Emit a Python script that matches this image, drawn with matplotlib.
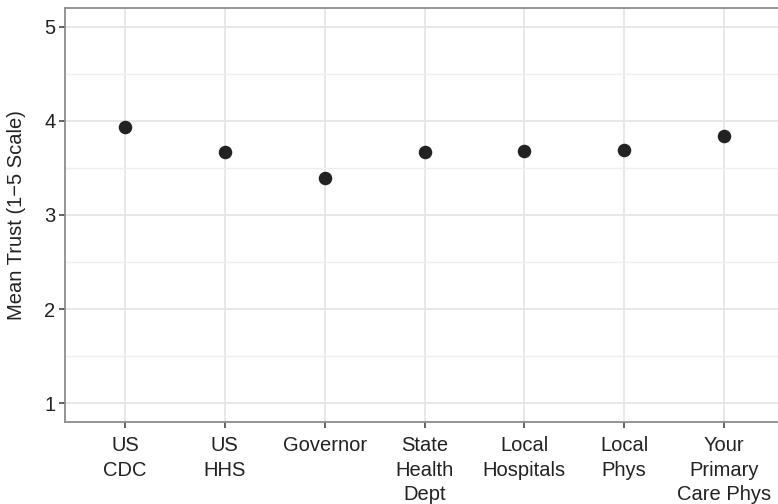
import matplotlib
matplotlib.use("Agg")
import matplotlib.pyplot as plt
import numpy as np

plt.rcParams['font.family'] = ['Liberation Sans', 'DejaVu Sans']

labels = ["US\nCDC", "US\nHHS", "Governor", "State\nHealth\nDept", "Local\nHospitals",
          "Local\nPhys", "Your\nPrimary\nCare Phys"]
mean_trust = [3.94, 3.67, 3.39, 3.67, 3.68, 3.69, 3.84]
y_ticks = [1, 2, 3, 4, 5]

fig = plt.figure(figsize=(7.78, 5.04), dpi=100)
# panel runs off the right edge of the picture, as in the original
ax = fig.add_axes([65 / 778, (504 - 422) / 504, (784 - 65) / 778, (422 - 8) / 504])

x = np.arange(1, len(labels) + 1)
ax.scatter(x, mean_trust, s=95, color="#222222", zorder=3, linewidths=0)

ax.set_xlim(0.4, len(labels) + 0.6)
ax.set_ylim(0.8, 5.2)
ax.set_xticks(x)
ax.set_xticklabels(labels, fontsize=14.5, color="#222222", linespacing=1.38, va="top")
ax.set_yticks(y_ticks)
ax.set_yticklabels([str(v) for v in y_ticks], fontsize=14.5, color="#222222")
ax.set_yticks(np.arange(1.5, 5.0, 1.0), minor=True)

ax.grid(True, which="major", color="#e6e6e6", linewidth=1.3, zorder=0)
ax.grid(True, which="minor", axis="y", color="#eeeeee", linewidth=1.0, zorder=0)
ax.set_axisbelow(True)

for side in ["left", "bottom", "top", "right"]:
    ax.spines[side].set_color("#8c8c8c")
    ax.spines[side].set_linewidth(1.3)

ax.tick_params(axis="both", which="major", length=4, width=1.3, color="#555555", pad=3)
ax.tick_params(axis="x", pad=6)
ax.tick_params(axis="y", which="minor", length=0)

ax.set_ylabel("Mean Trust (1\u22125 Scale)", fontsize=14.5, color="#222222", labelpad=13)

fig.savefig("out.png", dpi=100)
